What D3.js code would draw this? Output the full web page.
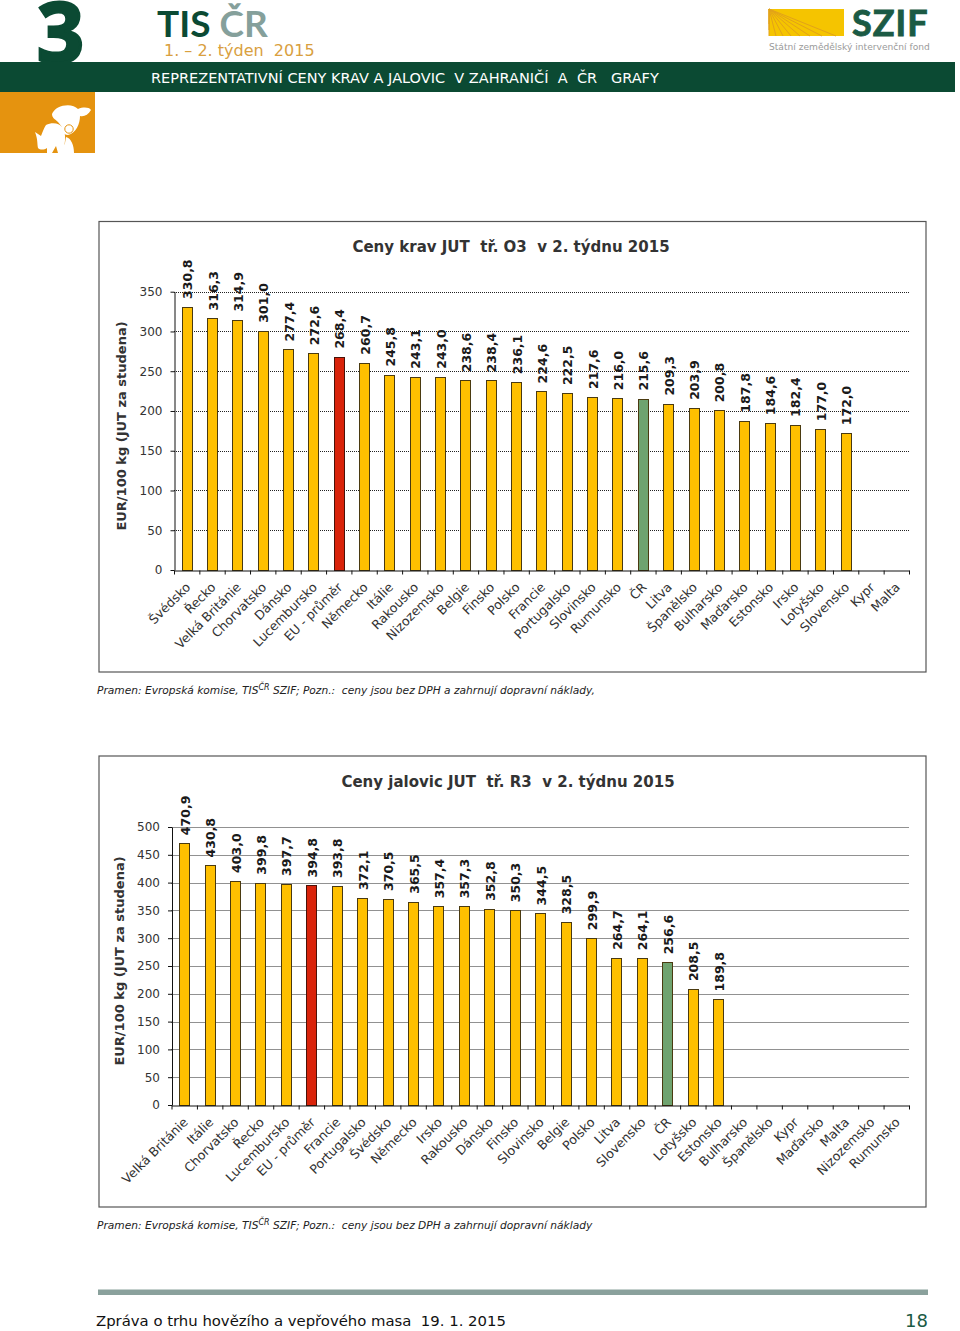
<!DOCTYPE html>
<html><head><meta charset="utf-8">
<script src="https://cdn.jsdelivr.net/npm/d3@7/dist/d3.min.js"></script>
<style>
html,body{margin:0;padding:0;background:#fff;overflow:hidden}
svg{display:block}
text{white-space:pre;font-family:"DejaVu Sans",sans-serif}
</style></head><body><svg id="c" width="960" height="1331"></svg>
<script>
const cowCategories = ["Švédsko","Řecko","Velká Británie","Chorvatsko","Dánsko","Lucembursko","EU - průměr","Německo","Itálie","Rakousko","Nizozemsko","Belgie","Finsko","Polsko","Francie","Portugalsko","Slovinsko","Rumunsko","ČR","Litva","Španělsko","Bulharsko","Maďarsko","Estonsko","Irsko","Lotyšsko","Slovensko","Kypr","Malta"];
const cowValues = [330.8,316.3,314.9,301.0,277.4,272.6,268.4,260.7,245.8,243.1,243.0,238.6,238.4,236.1,224.6,222.5,217.6,216.0,215.6,209.3,203.9,200.8,187.8,184.6,182.4,177.0,172.0,null,null];
const cowTicks = [0,50,100,150,200,250,300,350];
const heiferCategories = ["Velká Británie","Itálie","Chorvatsko","Řecko","Lucembursko","EU - průměr","Francie","Portugalsko","Švédsko","Německo","Irsko","Rakousko","Dánsko","Finsko","Slovinsko","Belgie","Polsko","Litva","Slovensko","ČR","Lotyšsko","Estonsko","Bulharsko","Španělsko","Kypr","Maďarsko","Malta","Nizozemsko","Rumunsko"];
const heiferValues = [470.9,430.8,403.0,399.8,397.7,394.8,393.8,372.1,370.5,365.5,357.4,357.3,352.8,350.3,344.5,328.5,299.9,264.7,264.1,256.6,208.5,189.8,null,null,null,null,null,null,null];
const heiferTicks = [0,50,100,150,200,250,300,350,400,450,500];
const yAxisTitle = "EUR/100 kg (JUT za studena)";

const svg = d3.select("#c");
const GREEN="#0b4a33", TXT="#333";

/* ---------- page header ---------- */
svg.append("text").attr("x",37).attr("y",62).attr("font-size",82).attr("font-weight",700)
  .style("font-family","'Open Sans',sans-serif").attr("fill",GREEN).attr("stroke",GREEN).attr("stroke-width",3).text("3");
const tis = svg.append("text").attr("x",157).attr("y",37).attr("font-size",37).attr("font-weight",700)
  .style("font-family","Lato,sans-serif");
tis.append("tspan").attr("fill",GREEN).text("TIS ");
tis.append("tspan").attr("fill","#85a09b").text("ČR");
svg.append("text").attr("x",164).attr("y",56).attr("font-size",16).attr("fill","#d9a03f").text("1. – 2. týden  2015");
svg.append("rect").attr("x",0).attr("y",62).attr("width",955).attr("height",30).attr("fill",GREEN);
svg.append("text").attr("x",151).attr("y",83).attr("font-size",14.5).attr("fill","#fff")
  .text("REPREZENTATIVNÍ CENY KRAV A JALOVIC  V ZAHRANIČÍ  A  ČR   GRAFY");
svg.append("rect").attr("x",0).attr("y",92).attr("width",95).attr("height",61).attr("fill","#e5930f");
// cow + pig silhouette
const ic = svg.append("g").attr("fill","#fff");
ic.append("path").attr("d","M52 114 C55 105 72 102 78 109 C83 107 89 107 91 110 C88 115 84 117 80 116 C80 124 76 133 68 135 C63 135 62 131 62 127 L58 122 C55 119 52 118 52 114Z");
ic.append("path").attr("d","M46 125 C52 122 60 123 63 128 C66 134 66 143 62 153 L58 153 L56 146 L52 153 L47 153 L47 148 C44 150 40 150 38 148 C37 143 38 140 35 132 L41 136 C43 131 44 128 46 125Z");
ic.append("path").attr("d","M66 137 C71 138 74 145 74 153 L60 153 L65 143Z");
ic.append("circle").attr("cx",69).attr("cy",129).attr("r",4.2).attr("fill","none").attr("stroke","#e5930f").attr("stroke-width",1);

/* ---------- SZIF logo ---------- */
svg.append("rect").attr("x",769).attr("y",9).attr("width",75).attr("height",27).attr("fill","#f5c400");
const rays = svg.append("g").attr("stroke","#e2a21a").attr("stroke-width",1);
[[769,36],[776,36],[783,36],[791,36],[800,36],[810,36],[822,36],[836,36],[769,30],[769,24]].forEach(p=>{
  rays.append("line").attr("x1",769).attr("y1",9).attr("x2",p[0]).attr("y2",p[1]);
});
svg.append("text").attr("x",852).attr("y",36).attr("font-size",36).attr("font-weight",700)
  .attr("letter-spacing",1).attr("stroke","#1b5a44").attr("stroke-width",0.9)
  .style("font-family","Lato,sans-serif").attr("fill","#1b5a44").text("SZIF");
svg.append("text").attr("x",769).attr("y",50).attr("font-size",9.1).attr("fill","#9a9a9a").text("Státní zemědělský intervenční fond");

/* ---------- charts ---------- */
function chart(o){
  const g = svg.append("g");
  g.append("rect").attr("x",o.frame[0]).attr("y",o.frame[1]).attr("width",o.frame[2]-o.frame[0]).attr("height",o.frame[3]-o.frame[1])
    .attr("fill","#fff").attr("stroke","#555").attr("stroke-width",1.2);
  g.append("text").attr("x",o.titleX).attr("y",o.titleY).attr("text-anchor","middle").attr("font-size",15)
    .attr("font-weight",700).attr("fill",TXT).text(o.title);
  const y = d3.scaleLinear().domain([0,o.yMax]).range([o.y0,o.y1]);
  const x = d3.scaleBand().domain(o.cats).range([o.x0,o.x1]).paddingInner(0.6).paddingOuter(0.3);
  const tickPos = d3.scaleLinear().domain([0,o.cats.length]).range([o.x0,o.x1]);
  // gridlines
  g.append("g").selectAll("line").data(o.ticks.filter(d=>d>0)).join("line")
    .attr("x1",o.x0).attr("x2",o.x1).attr("y1",d=>Math.round(y(d))+.5).attr("y2",d=>Math.round(y(d))+.5)
    .attr("stroke","#222").attr("stroke-dasharray","1,1");
  // y axis
  const ya = g.append("g").attr("transform",`translate(${o.x0+.5},0)`)
    .call(d3.axisLeft(y).tickValues(o.ticks).tickSize(4).tickPadding(8).tickSizeOuter(0));
  ya.selectAll("text").attr("font-size",12).attr("fill",TXT).style("font-family","'DejaVu Sans',sans-serif");
  ya.selectAll("line,path").attr("stroke","#111");
  // bars
  const rows = o.cats.map((c,i)=>({c,v:o.vals[i]})).filter(d=>d.v!=null);
  g.append("g").selectAll("rect").data(rows).join("rect")
    .attr("x",d=>Math.round(x(d.c))+.5).attr("width",Math.round(x.bandwidth()))
    .attr("y",d=>Math.round(y(d.v))+.5).attr("height",d=>Math.round(y(0))-Math.round(y(d.v)))
    .attr("fill",d=>d.c==="EU - průměr"?"#d9230a":d.c==="ČR"?"#6fa36f":"#ffc000")
    .attr("stroke",d=>d.c==="EU - průměr"?"#4a1208":"#4a3a10").attr("stroke-width",1);
  // x axis
  const xa = g.append("g").attr("transform",`translate(0,${Math.round(y(0))+.5})`)
    .call(d3.axisBottom(tickPos).tickValues(d3.range(o.cats.length+1)).tickFormat("").tickSize(4).tickSizeOuter(0));
  xa.selectAll("line,path").attr("stroke","#111");
  // data labels
  g.append("g").selectAll("text").data(rows).join("text")
    .attr("transform",d=>`translate(${x(d.c)+x.bandwidth()/2+5.5},${y(d.v)-8}) rotate(-90)`)
    .attr("font-size",12.5).attr("font-weight",700).attr("fill","#1a1a1a")
    .text(d=>d3.format(".1f")(d.v).replace(".",","));
  // category labels
  g.append("g").selectAll("text").data(o.cats).join("text")
    .attr("transform",d=>`translate(${x(d)+x.bandwidth()/2+4.5},${o.y0+18}) rotate(-45)`)
    .attr("text-anchor","end").attr("font-size",12.6).attr("fill",TXT).text(d=>d);
  // y title
  g.append("text").attr("transform",`translate(${o.ytX},${o.ytY}) rotate(-90)`).attr("text-anchor","middle")
    .attr("font-size",13).attr("font-weight",700).attr("fill",TXT).text(yAxisTitle);
  // source note
  const n = g.append("text").attr("x",97).attr("y",o.noteY).attr("font-size",10.65).attr("font-style","italic").attr("fill","#222");
  n.append("tspan").text("Pramen: Evropská komise, TIS");
  n.append("tspan").attr("dy",-4).attr("font-size",8).text("ČR");
  n.append("tspan").attr("dy",4).text(" SZIF; Pozn.:  ceny jsou bez DPH a zahrnují dopravní náklady"+o.noteEnd);
}
chart({frame:[99,221.5,926,672],title:"Ceny krav JUT  tř. O3  v 2. týdnu 2015",titleX:511,titleY:252,
  cats:cowCategories,vals:cowValues,ticks:cowTicks,yMax:350,x0:174,x1:909,y0:570,y1:291.7,ytX:126,ytY:426,noteY:694,noteEnd:","});
chart({frame:[99,756,926,1207],title:"Ceny jalovic JUT  tř. R3  v 2. týdnu 2015",titleX:508,titleY:787,
  cats:heiferCategories,vals:heiferValues,ticks:heiferTicks,yMax:500,x0:171.5,x1:909,y0:1105,y1:827,ytX:123.5,ytY:961,noteY:1229,noteEnd:""});

/* ---------- footer ---------- */
svg.append("rect").attr("x",98).attr("y",1289.5).attr("width",830).attr("height",5.5).attr("fill","#8aa19c");
svg.append("text").attr("x",96).attr("y",1326).attr("font-size",14.85).attr("fill","#111").text("Zpráva o trhu hovězího a vepřového masa  19. 1. 2015");
svg.append("text").attr("x",928).attr("y",1327).attr("text-anchor","end").attr("font-size",18).attr("fill","#1b5a44").text("18");
</script></body></html>
